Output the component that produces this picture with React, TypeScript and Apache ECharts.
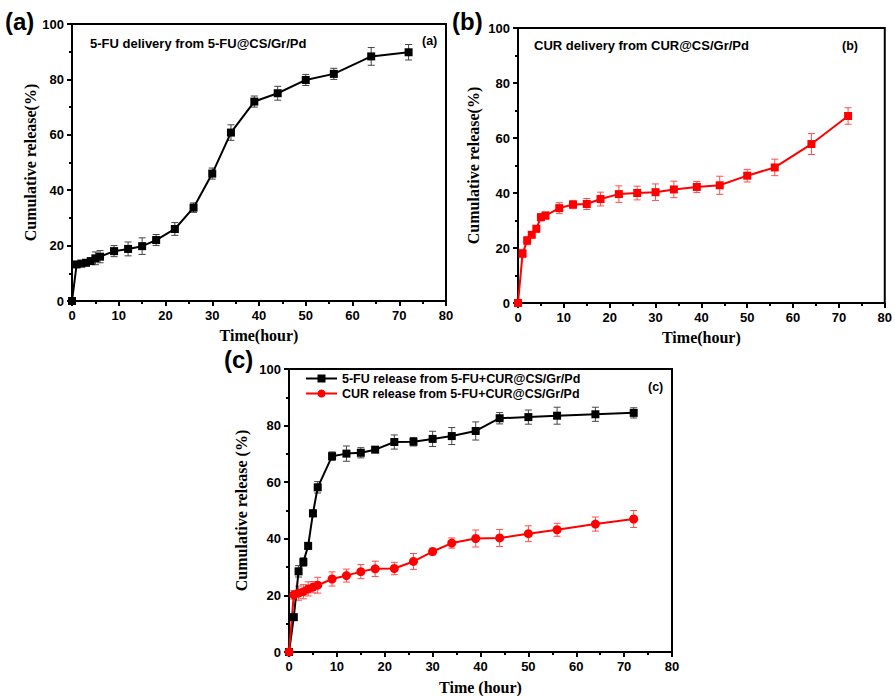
import React, { useEffect, useRef } from "react";
import * as echarts from "echarts";

const times = [0, 1, 2, 3, 4, 5, 6, 9, 12, 15, 18, 22, 26, 30, 34, 39, 44, 50, 56, 64, 72];
const xTicks = [0, 10, 20, 30, 40, 50, 60, 70, 80];
const yTicks = [0, 20, 40, 60, 80, 100];

// (a) 5-FU from 5-FU@CS/Gr/Pd
const aFU = [0, 13.2, 13.5, 13.8, 14.4, 15.4, 16, 18, 18.8, 19.8, 22, 26, 33.7, 46, 60.8, 72, 75, 79.8, 82, 88.3, 89.8];
const aFUErr = [0, 1, 0.8, 0.8, 1, 2.3, 2.2, 2, 2.5, 3, 2, 2.3, 1.7, 2, 2.8, 2, 2.5, 2, 2, 3.2, 2.8];

// (b) CUR from CUR@CS/Gr/Pd
const bCUR = [0, 18, 22.7, 24.8, 27, 31.2, 31.8, 34.5, 35.8, 36, 37.8, 39.6, 40, 40.3, 41.3, 42.2, 42.8, 46.3, 49.3, 57.8, 68];
const bCURErr = [0, 1.5, 1.5, 1, 1.2, 1.3, 1.3, 2, 1.5, 2, 2.5, 3, 2.5, 3, 3, 2, 3.3, 2.3, 3, 3.8, 3];

// (c) co-loaded release
const cFU = [0, 12.3, 28.5, 31.8, 37.5, 49, 58.2, 69.2, 70.1, 70.4, 71.5, 74.2, 74.3, 75.3, 76.3, 78.1, 82.6, 83, 83.5, 84, 84.5];
const cFUErr = [0, 1, 2, 1.5, 1.2, 1.2, 2, 1.5, 2.7, 1.8, 1, 2.5, 1.5, 2.7, 3, 3.2, 2, 2.5, 3, 2.5, 1.8];
const cCUR = [0, 20.2, 20.8, 21.3, 22.3, 22.9, 23.6, 25.8, 27, 28.4, 29.4, 29.5, 32, 35.5, 38.5, 40.1, 40.3, 41.8, 43.2, 45.2, 47];
const cCURErr = [0, 1.5, 2.5, 2.5, 2.5, 2, 2.8, 2.5, 2.3, 2.5, 2.7, 2.2, 2.8, 1.2, 1.8, 3, 3, 2.8, 2.3, 2.5, 3];

const seriesNames = [
  "5-FU release from 5-FU+CUR@CS/Gr/Pd",
  "CUR release from 5-FU+CUR@CS/Gr/Pd",
];

const BLACK = "#000000";
const RED = "#ff0000";
const SANS = "Liberation Sans, Arial, sans-serif";
const SERIF = "Liberation Serif, Times New Roman, serif";

function pairs(vals: number[]) {
  return times.map((t, i) => [t, vals[i]]);
}
function errPairs(vals: number[], errs: number[]) {
  return times.map((t, i) => [t, vals[i], errs[i]]);
}

function makeAxes(idx: number, yName: string, xName: string, yGap: number, xGap: number) {
  const axisLine = { show: true, onZero: false, lineStyle: { color: BLACK, width: 2 } };
  const xAxis = {
    type: "value",
    gridIndex: idx,
    min: xTicks[0],
    max: xTicks[xTicks.length - 1],
    interval: xTicks[1] - xTicks[0],
    name: xName,
    nameLocation: "middle",
    nameGap: xGap,
    nameTextStyle: { fontFamily: SERIF, fontWeight: "bold", fontSize: 16, color: BLACK },
    axisLine,
    axisTick: { show: true, inside: false, length: 5, lineStyle: { color: BLACK, width: 2 } },
    minorTick: { show: true, splitNumber: 2, length: 3, lineStyle: { color: BLACK, width: 2 } },
    splitLine: { show: false },
    axisLabel: { fontFamily: SANS, fontWeight: "bold", fontSize: 13, color: BLACK, margin: 8 },
  };
  const yAxis = {
    type: "value",
    gridIndex: idx,
    min: yTicks[0],
    max: yTicks[yTicks.length - 1],
    interval: yTicks[1] - yTicks[0],
    name: yName,
    nameLocation: "middle",
    nameGap: yGap,
    nameRotate: 90,
    nameTextStyle: { fontFamily: SERIF, fontWeight: "bold", fontSize: 16, color: BLACK },
    axisLine,
    axisTick: { show: true, inside: false, length: 5, lineStyle: { color: BLACK, width: 2 } },
    minorTick: { show: true, splitNumber: 2, length: 3, lineStyle: { color: BLACK, width: 2 } },
    splitLine: { show: false },
    axisLabel: { fontFamily: SANS, fontWeight: "bold", fontSize: 13, color: BLACK, margin: 8 },
  };
  return { xAxis, yAxis };
}

function errorSeries(idx: number, data: number[][], color: string) {
  return {
    type: "custom",
    xAxisIndex: idx,
    yAxisIndex: idx,
    data,
    z: 3,
    silent: true,
    encode: { x: 0, y: 1 },
    renderItem: (params: any, api: any) => {
      const x = api.value(0);
      const y = api.value(1);
      const e = api.value(2);
      if (!e) return { type: "group", children: [] };
      const top = api.coord([x, y + e]);
      const bot = api.coord([x, y - e]);
      const hw = 3.5;
      const style = { stroke: color, lineWidth: 1 };
      return {
        type: "group",
        children: [
          { type: "line", shape: { x1: top[0], y1: top[1], x2: bot[0], y2: bot[1] }, style },
          { type: "line", shape: { x1: top[0] - hw, y1: top[1], x2: top[0] + hw, y2: top[1] }, style },
          { type: "line", shape: { x1: bot[0] - hw, y1: bot[1], x2: bot[0] + hw, y2: bot[1] }, style },
        ],
      };
    },
  };
}

function lineSeries(idx: number, name: string, vals: number[], color: string, symbol: string, size: number) {
  return {
    type: "line",
    name,
    xAxisIndex: idx,
    yAxisIndex: idx,
    data: pairs(vals),
    symbol,
    symbolSize: size,
    showAllSymbol: true,
    clip: false,
    z: 4,
    itemStyle: { color },
    lineStyle: { color, width: 2 },
  };
}

export default function App() {
  const ref = useRef<HTMLDivElement>(null);
  useEffect(() => {
    if (!ref.current) return;
    const chart = echarts.init(ref.current, undefined, { renderer: "svg" });
    const a = makeAxes(0, "Cumulative release(%)", "Time(hour)", 34, 26);
    const b = makeAxes(1, "Cumulative release(%)", "Time(hour)", 37, 26);
    const c = makeAxes(2, "Cumulative release (%)", "Time (hour)", 40, 27);
    const gridBase = { show: true, borderColor: BLACK, borderWidth: 2, backgroundColor: "transparent" };
    chart.setOption({
      animation: false,
      backgroundColor: "#ffffff",
      grid: [
        { ...gridBase, left: 72, top: 24, width: 374, height: 277 },
        { ...gridBase, left: 518, top: 28, width: 370, height: 275 },
        { ...gridBase, left: 289, top: 369, width: 383, height: 283 },
      ],
      xAxis: [a.xAxis, b.xAxis, c.xAxis],
      yAxis: [a.yAxis, b.yAxis, c.yAxis],
      legend: {
        data: seriesNames,
        orient: "vertical",
        left: 305,
        top: 372,
        padding: 0,
        itemWidth: 31,
        itemHeight: 10,
        itemGap: 2,
        textStyle: { fontFamily: SANS, fontWeight: "bold", fontSize: 12.5, color: BLACK },
        selectedMode: false,
      },
      graphic: [
        { type: "text", left: 5, top: 9, style: { text: "(a)", font: `bold 24px ${SANS}`, fill: BLACK } },
        { type: "text", left: 452, top: 9, style: { text: "(b)", font: `bold 24px ${SANS}`, fill: BLACK } },
        { type: "text", left: 224, top: 347, style: { text: "(c)", font: `bold 24px ${SANS}`, fill: BLACK } },
        { type: "text", left: 90, top: 37, style: { text: "5-FU delivery from 5-FU@CS/Gr/Pd", font: `bold 13px ${SANS}`, fill: BLACK } },
        { type: "text", left: 422, top: 34, style: { text: "(a)", font: `bold 12.5px ${SANS}`, fill: BLACK } },
        { type: "text", left: 534, top: 39, style: { text: "CUR delivery from CUR@CS/Gr/Pd", font: `bold 13px ${SANS}`, fill: BLACK } },
        { type: "text", left: 842, top: 39, style: { text: "(b)", font: `bold 12.5px ${SANS}`, fill: BLACK } },
        { type: "text", left: 648, top: 380, style: { text: "(c)", font: `bold 12.5px ${SANS}`, fill: BLACK } },
      ],
      series: [
        errorSeries(0, errPairs(aFU, aFUErr), "#444444"),
        lineSeries(0, "5-FU delivery", aFU, BLACK, "rect", 8),
        errorSeries(1, errPairs(bCUR, bCURErr), "#ff4d4d"),
        lineSeries(1, "CUR delivery", bCUR, RED, "rect", 8),
        errorSeries(2, errPairs(cFU, cFUErr), "#444444"),
        lineSeries(2, seriesNames[0], cFU, BLACK, "rect", 8),
        errorSeries(2, errPairs(cCUR, cCURErr), "#ff4d4d"),
        lineSeries(2, seriesNames[1], cCUR, RED, "circle", 9),
      ],
    });
    return () => chart.dispose();
  }, []);
  return (
    <div
      ref={ref}
      style={{ position: "absolute", left: 0, top: 0, width: 895, height: 696 }}
    />
  );
}
